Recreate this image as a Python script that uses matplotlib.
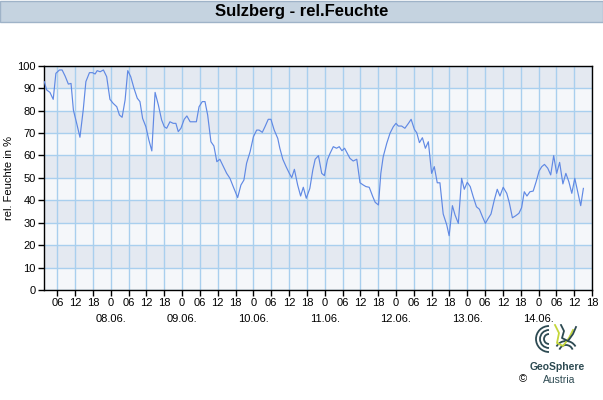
import matplotlib
matplotlib.use("Agg")
import matplotlib.pyplot as plt
from matplotlib.patches import Rectangle, Arc
import matplotlib.transforms as mtransforms

# Stunden seit 07.06. 00:00 und relative Feuchte in %
stunden = [
    1.6, 2.4, 3.5, 4.6, 5.5, 6.7, 7.6, 8.6, 9.7, 10.6, 11.4, 12.5, 13.6, 14.7, 15.6,
    16.8, 17.8, 18.7, 19.4, 20.4, 21.5, 22.6, 23.7, 24.8, 26.0, 26.9, 27.8, 28.8,
    29.7, 30.7, 31.8, 32.9, 33.8, 34.7, 35.8, 36.8, 37.8, 38.9, 40.0, 41.1, 42.0,
    42.8, 43.9, 45.0, 45.9, 46.7, 47.6, 48.7, 49.6, 50.7, 51.8, 52.8, 53.7, 54.8,
    55.7, 56.6, 57.7, 58.7, 59.7, 60.7, 61.9, 63.0, 64.1, 65.2, 66.7, 67.8, 68.8,
    69.7, 70.9, 72.0, 73.1, 73.9, 75.0, 75.9, 77.0, 77.9, 79.0, 80.2, 80.9, 81.9,
    83.0, 84.1, 84.9, 85.8, 86.9, 87.9, 88.8, 89.8, 91.0, 92.0, 92.8, 93.9, 95.0,
    95.9, 96.9, 97.8, 98.9, 100.0, 100.9, 101.8, 102.7, 103.6, 104.5, 105.6, 106.8,
    107.9, 109.0, 109.9, 111.0, 112.2, 113.0, 114.1, 114.9, 115.7, 116.9, 118.0,
    119.1, 120.0, 120.8, 121.9, 123.0, 124.2, 125.1, 126.2, 127.0, 127.9, 128.9,
    129.9, 130.9, 132.0, 132.9, 133.9, 134.8, 135.9, 137.1, 137.9, 139.0, 139.9,
    141.0, 142.1, 143.0, 144.0, 145.0, 146.0, 147.1, 148.1, 149.1, 150.1, 151.1,
    152.0, 153.1, 154.1, 155.0, 156.1, 157.3, 158.2, 159.2, 160.3, 161.4, 162.3,
    163.2, 164.1, 165.1, 166.2, 167.2, 168.2, 169.1, 170.0, 171.1, 172.1, 173.1,
    174.1, 175.1, 176.2, 177.2, 178.2, 179.2, 180.2, 181.2, 182.2, 183.1,
]
feuchte = [
    92.9, 89.2, 88.1, 85.0, 96.6, 98.1, 98.1, 95.4, 91.8, 92.1, 80.2, 74.3, 68.1, 80.2, 92.9,
    96.9, 96.9, 96.3, 97.8, 97.3, 98.1, 95.1, 85.0, 83.2, 81.7, 78.0, 77.0, 84.7,
    97.8, 95.1, 89.9, 85.5, 84.0, 76.5, 72.8, 66.9, 62.0, 88.1, 82.5, 75.8, 72.8,
    72.1, 75.0, 74.3, 74.3, 70.6, 72.1, 76.1, 77.6, 75.0, 75.0, 75.0, 81.7, 84.0,
    84.0, 78.0, 66.1, 64.2, 57.2, 58.3, 55.0, 52.0, 49.8, 46.1, 41.2, 46.8, 49.0,
    56.5, 61.7, 68.3, 71.3, 71.3, 70.3, 72.8, 76.1, 76.1, 71.3, 67.6, 63.2, 58.3,
    55.0, 52.0, 50.1, 53.8, 46.8, 41.9, 45.8, 40.9, 45.3, 53.5, 58.3, 59.9, 52.0,
    51.0, 58.0, 60.9, 63.9, 63.2, 63.9, 62.1, 63.2, 60.9, 58.7, 57.5, 58.3,
    47.8, 46.8, 46.1, 45.8, 41.6, 39.1, 37.9, 52.0, 59.4, 65.4, 69.9,
    72.8, 74.3, 73.1, 73.1, 72.1, 74.3, 76.1, 71.6, 70.1, 65.7, 67.9,
    63.2, 66.1, 52.0, 55.0, 47.8, 47.8, 33.9, 29.0, 24.2, 37.6, 33.4,
    29.7, 49.8, 44.9, 48.0, 46.1, 41.6, 37.1, 36.0, 32.7, 29.7, 32.0,
    33.9, 40.1, 44.9, 41.9, 45.8, 43.1, 38.7, 32.2, 33.1, 34.2, 36.7,
    43.8, 41.9, 43.8, 44.1, 48.3, 53.1, 55.0, 56.0, 54.3, 51.3, 59.9,
    52.0, 56.9, 47.3, 52.0, 48.3, 43.1, 49.8, 43.8, 37.6, 45.3,
]

tick_stunden = list(range(6, 187, 6))
tick_labels = [("0" if h % 24 == 0 else f"{h % 24:02d}") for h in tick_stunden]
datum_stunden = [24, 48, 72, 96, 120, 144, 168]
datum_labels = ["08.06.", "09.06.", "10.06.", "11.06.", "12.06.", "13.06.", "14.06."]
y_ticks = list(range(0, 101, 10))

plt.rcParams["font.family"] = ["Liberation Sans", "DejaVu Sans"]

fig = plt.figure(figsize=(6.03, 4.00), dpi=100)
fig.patch.set_facecolor("white")

# Titelleiste
fig.patches.append(Rectangle((0.0, 1 - 22 / 400), 1.0, 21 / 400, transform=fig.transFigure,
                             facecolor="#c5d3e0", edgecolor="#9fb3c8", linewidth=1))
fig.text(0.5, 1 - 11.5 / 400, "Sulzberg - rel.Feuchte", ha="center", va="center",
         fontsize=12, fontweight="bold", color="black")

ax = fig.add_axes([44.3 / 603, 110 / 400, (592 - 44.3) / 603, (290 - 65.7) / 400])
ax.set_xlim(1.6, 186)
ax.set_ylim(0, 100)

# abwechselnde Baender
for i, y0 in enumerate(range(0, 100, 10)):
    ax.axhspan(y0, y0 + 10, facecolor="#f5f7fa" if i % 2 == 0 else "#e4e9f1",
               edgecolor="none", zorder=0)

ax.set_xticks(tick_stunden)
ax.set_xticklabels(tick_labels)
ax.set_yticks(y_ticks)
ax.grid(True, color="#a9cfee", linewidth=1, zorder=1)
ax.set_axisbelow(True)

ax.plot(stunden, feuchte, color="#6089e4", linewidth=0.85, zorder=3)

for s in ax.spines.values():
    s.set_color("black")
    s.set_linewidth(1)
ax.tick_params(axis="both", direction="out", length=4, width=1, labelsize=8,
               colors="black", pad=2)

trans = mtransforms.blended_transform_factory(ax.transData, ax.transAxes)
for h, lab in zip(datum_stunden, datum_labels):
    ax.text(h, -0.105, lab, transform=trans, ha="center", va="top", fontsize=8)

ax.set_ylabel("rel. Feuchte in %", fontsize=8, va="center")
ax.yaxis.set_label_coords(-0.064, 0.5)

# Logo (vereinfacht)
logo = fig.add_axes([535 / 603, 42 / 400, 44 / 603, 34 / 400])
logo.set_xlim(0, 44)
logo.set_ylim(0, 34)
logo.axis("off")
for r in (5, 9, 13):
    logo.add_patch(Arc((14, 19), 2 * r, 2 * r, theta1=90, theta2=270, color="#2d4a52", lw=1.3))
logo.add_patch(Arc((31, 6), 14, 14, theta1=20, theta2=160, color="#2d4a52", lw=1.3))
logo.add_patch(Arc((31, 6), 22, 22, theta1=30, theta2=150, color="#2d4a52", lw=1.3))
logo.plot([20, 24, 22, 28, 34, 38], [33, 25, 15, 12, 20, 28], color="#c4d63a", lw=1.3)
logo.plot([26, 29, 27, 33, 38, 41], [33, 27, 20, 17, 24, 31], color="#2d4a52", lw=1.3)

fig.text(557 / 603, 1 - 367 / 400, "GeoSphere", ha="center", va="center",
         fontsize=7.5, fontweight="bold", color="#2d4a52")
fig.text(559 / 603, 1 - 380 / 400, "Austria", ha="center", va="center",
         fontsize=7.5, color="#2d4a52")
fig.text(523 / 603, 1 - 379 / 400, "©", ha="center", va="center", fontsize=8, color="black")

fig.savefig("out.png", dpi=100)
